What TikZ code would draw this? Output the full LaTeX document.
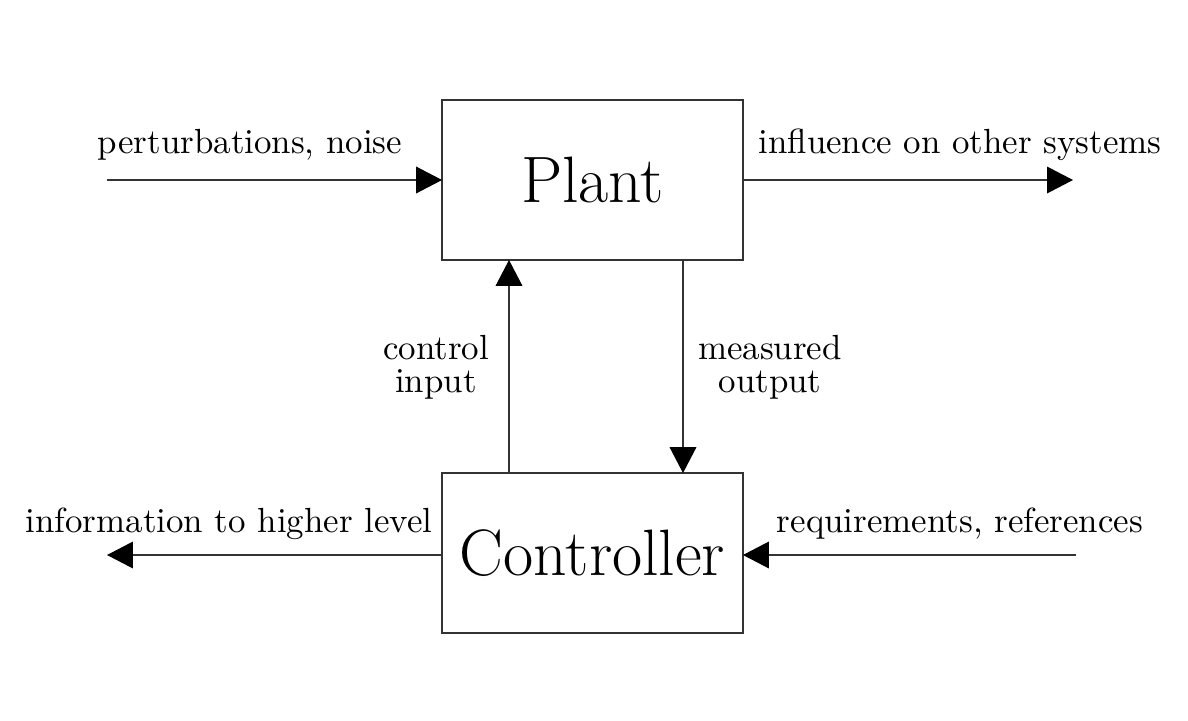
\documentclass[tikz,border=0pt]{standalone}
\usetikzlibrary{arrows.meta}
\begin{document}
\begin{tikzpicture}[x=0.2865pt,y=-0.2865pt,
  blk/.style={draw=black!80, line width=0.35pt, minimum width=86.2pt, minimum height=45.8pt, inner sep=0pt, outer sep=0pt, font=\fontsize{18.8}{22}\selectfont},
  arr/.style={draw=black!80, line width=0.35pt, -{Triangle[length=7.4pt,width=7.6pt,color=black]}},
  lbl/.style={anchor=base, inner sep=0pt, align=center}]
\useasboundingbox (0,0) rectangle (1188,720);
\node[blk] (plant) at (592.5,180) {Plant};
\node[blk] (ctrl) at (592.5,553) {Controller};
\coordinate (pin) at (107,180);
\coordinate (pout) at (1073,180);
\coordinate (info) at (107,555);
\coordinate (req) at (1076,555);
\coordinate (cu) at (509,400);
\coordinate (mo) at (683,400);
\draw[arr] (pin) -- (plant.west);
\draw[arr] (plant.east) -- (pout);
\draw[arr] (ctrl.west |- info) -- (info);
\draw[arr] (req) -- (ctrl.east |- req);
\draw[arr] (ctrl.north -| cu) -- (plant.south -| cu);
\draw[arr] (plant.south -| mo) -- (ctrl.north -| mo);
\node[lbl] (l1) at (250,153) {perturbations, noise};
\node[lbl] (l2) at (960,153) {influence on other systems};
\node[lbl] (l3) at (436,392) {control\\[-2.7pt]input};
\node[lbl] (l4) at (770,392) {measured\\[-2.7pt]output};
\node[lbl] (l5) at (229,532) {information to higher level};
\node[lbl] (l6) at (960,532) {requirements, references};
\end{tikzpicture}
\end{document}
